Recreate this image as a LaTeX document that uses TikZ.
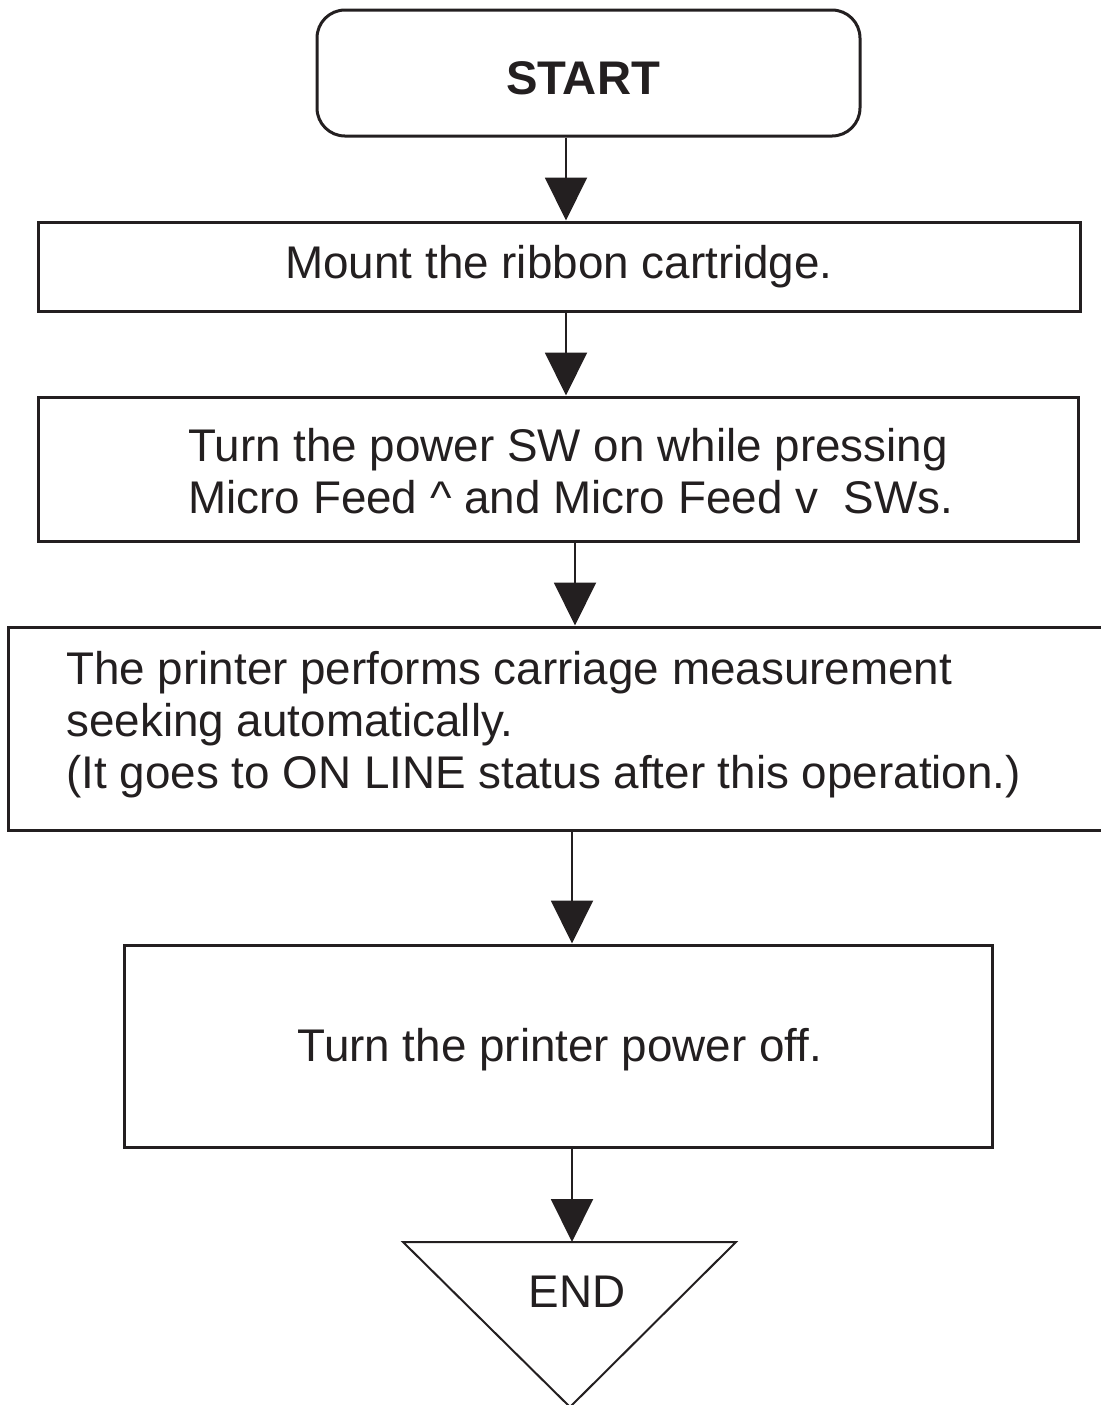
\documentclass[tikz,border=0pt]{standalone}
\usepackage{fontspec}
\setmainfont{Liberation Sans}
\usetikzlibrary{arrows.meta}
\definecolor{ink}{HTML}{231F20}

\begin{document}
\begin{tikzpicture}[x=0.5pt, y=-0.5pt,
  box/.style={draw=ink, line width=1.5pt, text=ink, inner sep=0pt, font=\fontsize{22.9}{26}\selectfont},
  txt/.style={text=ink, inner sep=0pt, align=left, font=\fontsize{22.9}{26}\selectfont},
  flow/.style={draw=ink, line width=1pt, -{Triangle[width=21pt, length=21.5pt]}}]
  \useasboundingbox (0,0) rectangle (1101,1405);
  % boxes
  \node[box, rounded corners=14pt, minimum width=271.5pt, minimum height=63pt] (start) at (588.5,73) {};
  \node[txt, font=\fontsize{23.6}{28}\selectfont\bfseries] (starttxt) at (583,78) {START};
  \node[box, minimum width=521pt, minimum height=44.5pt] (mount) at (559,266.5) {Mount the ribbon cartridge.};
  \node[box, minimum width=520pt, minimum height=72pt] (power) at (558,469) {};
  \node[txt, anchor=west] (powertxt) at (188,471) {Turn the power SW on while pressing\\Micro Feed \textasciicircum{} and Micro Feed v\ \ SWs.};
  \node[box, minimum width=551pt, minimum height=101.5pt] (measure) at (559,728.5) {};
  \node[txt, anchor=west] (measuretxt) at (66,725) {The printer performs carriage measurement\\seeking automatically.\\(It goes to ON LINE status after this operation.)};
  \node[box, minimum width=434pt, minimum height=101pt] (off) at (558,1046) {};
  \node[txt] (offtxt) at (560,1050) {Turn the printer power off.};
  % end mark
  \draw[ink, line width=1pt] (403,1242) -- (736,1242) -- (570,1407) -- cycle;
  \coordinate (endtop) at (572,1242);
  \node[txt] (end) at (577,1292) {END};
  % connectors
  \coordinate (col1) at (566,0);
  \coordinate (col2) at (575,0);
  \coordinate (col3) at (572,0);
  \draw[flow] (start.south -| col1) -- (mount.north -| col1);
  \draw[flow] (mount.south -| col1) -- (power.north -| col1);
  \draw[flow] (power.south -| col2) -- (measure.north -| col2);
  \draw[flow] (measure.south -| col3) -- (off.north -| col3);
  \draw[flow] (off.south -| col3) -- (endtop);
\end{tikzpicture}
\end{document}
